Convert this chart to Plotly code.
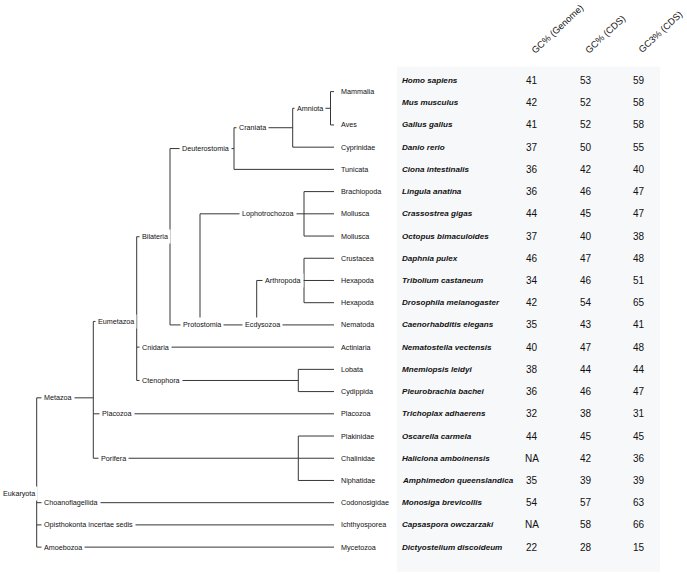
import plotly.graph_objects as go

# ---------------- table data ----------------
species = ["Homo sapiens", "Mus musculus", "Gallus gallus", "Danio rerio",
           "Ciona intestinalis", "Lingula anatina", "Crassostrea gigas",
           "Octopus bimaculoides", "Daphnia pulex", "Tribolium castaneum",
           "Drosophila melanogaster", "Caenorhabditis elegans",
           "Nematostella vectensis", "Mnemiopsis leidyi", "Pleurobrachia bachei",
           "Trichoplax adhaerens", "Oscarella carmela", "Haliclona amboinensis",
           "Amphimedon queenslandica", "Monosiga brevicollis",
           "Capsaspora owczarzaki", "Dictyostelium discoideum"]
gc_genome = [41, 42, 41, 37, 36, 36, 44, 37, 46, 34, 42, 35, 40, 38, 36, 32, 44,
             None, 35, 54, None, 22]
gc_cds = [53, 52, 52, 50, 42, 46, 45, 40, 47, 46, 54, 43, 47, 44, 46, 38, 45,
          42, 39, 57, 58, 28]
gc3_cds = [59, 58, 58, 55, 40, 47, 47, 38, 48, 51, 65, 41, 48, 44, 47, 31, 45,
           36, 39, 63, 66, 15]
column_titles = ["GC% (Genome)", "GC% (CDS)", "GC3% (CDS)"]

# ---------------- tree data ----------------
leaf_id = ["mammalia", "aves", "cyprinidae", "tunicata", "brachiopoda",
           "mollusca1", "mollusca2", "crustacea", "hexapoda1", "hexapoda2",
           "nematoda", "actiniaria", "lobata", "cydippida", "placozoa_l",
           "plakinidae", "chalinidae", "niphatidae", "codonosigidae",
           "ichthyosporea", "mycetozoa"]
leaf_label = ["Mammalia", "Aves", "Cyprinidae", "Tunicata", "Brachiopoda",
              "Mollusca", "Mollusca", "Crustacea", "Hexapoda", "Hexapoda",
              "Nematoda", "Actiniaria", "Lobata", "Cydippida", "Placozoa",
              "Plakinidae", "Chalinidae", "Niphatidae", "Codonosigidae",
              "Ichthyosporea", "Mycetozoa"]
leaf_parent = ["amniota", "amniota", "craniata", "deuterostomia",
               "lophotrochozoa", "lophotrochozoa", "lophotrochozoa",
               "arthropoda", "arthropoda", "arthropoda", "ecdysozoa",
               "cnidaria", "ctenophora", "ctenophora", "placozoa",
               "porifera", "porifera", "porifera", "choanoflagellida",
               "opisthokonta", "amoebozoa"]
leaf_rows = [[0, 1], [2], [3], [4], [5], [6], [7], [8], [9], [10], [11], [12],
             [13], [14], [15], [16], [17], [18], [19], [20], [21]]

node_id = ["eukaryota", "metazoa", "choanoflagellida", "opisthokonta",
           "amoebozoa", "eumetazoa", "placozoa", "porifera", "bilateria",
           "cnidaria", "ctenophora", "deuterostomia", "protostomia",
           "craniata", "lophotrochozoa", "ecdysozoa", "amniota", "arthropoda"]
node_label = ["Eukaryota", "Metazoa", "Choanoflagellida",
              "Opisthokonta incertae sedis", "Amoebozoa", "Eumetazoa",
              "Placozoa", "Porifera", "Bilateria", "Cnidaria", "Ctenophora",
              "Deuterostomia", "Protostomia", "Craniata", "Lophotrochozoa",
              "Ecdysozoa", "Amniota", "Arthropoda"]
node_parent = [None, "eukaryota", "eukaryota", "eukaryota", "eukaryota",
               "metazoa", "metazoa", "metazoa", "eumetazoa", "eumetazoa",
               "eumetazoa", "bilateria", "bilateria", "deuterostomia",
               "protostomia", "protostomia", "craniata", "ecdysozoa"]
node_depth = [0.5, 42.7, 42.7, 42.7, 42.7, 97, 100.7, 100, 141, 141, 141,
              181, 181.7, 238.3, 240.7, 244.3, 296, 264.3]
node_split = [36.7, 93.3, None, None, None, 136.7, None, 298.3, 170, None,
              298.3, 234, 200, 292.7, 304, 256.7, 330.5, 304]
node_on_last = [False] * 12 + [True, False, False, True, False, False]
leaf_depth = 340

# ---------------- layout constants ----------------
W, H = 687, 574
ROW0, ROWH = 80.5, 22.22
LINE = "#363636"
PAD = 2
FAMILY = "Liberation Sans, Arial, sans-serif"
TREE_FONT = dict(family=FAMILY, size=7.2, color="#111111")


def row_to_y(px):
    return (px - ROW0) / ROWH


# ---------------- compute tree geometry ----------------
pos_y, pos_x, children = {}, {}, {}
for lid, lp, rows in zip(leaf_id, leaf_parent, leaf_rows):
    pos_y[lid] = sum(rows) / len(rows)
    pos_x[lid] = leaf_depth
    children.setdefault(lp, []).append(lid)
for nid, npar in zip(node_id, node_parent):
    if npar is not None:
        children.setdefault(npar, []).append(nid)

info = {nid: (d, s, l) for nid, d, s, l in
        zip(node_id, node_depth, node_split, node_on_last)}
is_leaf = set(leaf_id)


def solve(nid):
    if nid in pos_y:
        return pos_y[nid]
    ys_ = [solve(c) for c in children[nid]]
    d, s, last = info[nid]
    pos_x[nid] = d
    pos_y[nid] = max(ys_) if last else sum(ys_) / len(ys_)
    return pos_y[nid]


solve("eukaryota")

xs, ys = [], []


def seg(x0, y0, x1, y1):
    xs.extend([x0, x1, None])
    ys.extend([y0, y1, None])


def child_end(c):
    return pos_x[c] - 6 if c in is_leaf else pos_x[c]


label_w = {nid: 0.5 * len(lab) * TREE_FONT["size"]
           for nid, lab in zip(node_id, node_label)}

for nid in node_id:
    d, s, last = info[nid]
    kids = children[nid]
    y = pos_y[nid]
    cx = pos_x[nid] + label_w[nid] / 2
    if s is None:
        c = kids[0]
        seg(cx, y, child_end(c), pos_y[c])
        continue
    kys = [pos_y[c] for c in kids] + [y]
    seg(s, min(kys), s, max(kys))
    if s > cx:
        seg(cx, y, s, y)
    for c in kids:
        seg(s, pos_y[c], child_end(c), pos_y[c])

fig = go.Figure()
fig.add_trace(go.Scatter(x=xs, y=ys, mode="lines",
                         line=dict(color=LINE, width=1),
                         hoverinfo="skip", showlegend=False))

annotations = []
for nid, lab in zip(node_id, node_label):
    annotations.append(dict(
        x=max(pos_x[nid] - PAD, 0), y=pos_y[nid], text=lab, showarrow=False,
        xanchor="left", yanchor="middle", font=TREE_FONT,
        bgcolor="white", borderpad=PAD))
for lid, lab in zip(leaf_id, leaf_label):
    annotations.append(dict(
        x=pos_x[lid], y=pos_y[lid], text=lab, showarrow=False,
        xanchor="left", yanchor="middle", font=TREE_FONT, borderpad=0))

# ---------------- table ----------------
TABLE_X0, TABLE_X1 = 397, 660
COLS = [532, 586, 639]
NUM_FONT = dict(family=FAMILY, size=10, color="#111111")
SP_FONT = dict(family=FAMILY, size=8.1, color="#111111")
HEAD_FONT = dict(family=FAMILY, size=9.3, color="#111111")

for i, sp in enumerate(species):
    annotations.append(dict(x=TABLE_X0 + 3, y=i, text=f"<b><i>{sp}</i></b>",
                            showarrow=False, xanchor="left",
                            yanchor="middle", font=SP_FONT))
    for cx, col in zip(COLS, [gc_genome, gc_cds, gc3_cds]):
        v = col[i]
        annotations.append(dict(x=cx, y=i, text="NA" if v is None else str(v),
                                showarrow=False, xanchor="center",
                                yanchor="middle", font=NUM_FONT))
for cx, t in zip(COLS, column_titles):
    annotations.append(dict(x=cx - 5, y=row_to_y(58), text=t,
                            showarrow=False, xanchor="left",
                            yanchor="bottom", textangle=-43, font=HEAD_FONT))

fig.update_layout(
    width=W, height=H, margin=dict(l=0, r=0, t=0, b=0),
    paper_bgcolor="white", plot_bgcolor="white",
    xaxis=dict(range=[0, W], visible=False, fixedrange=True),
    yaxis=dict(range=[row_to_y(H), row_to_y(0)], visible=False,
               fixedrange=True),
    shapes=[dict(type="rect", xref="x", yref="y", x0=TABLE_X0, x1=TABLE_X1,
                 y0=row_to_y(66.7), y1=row_to_y(571.7),
                 fillcolor="#f7f8fa", line=dict(width=0), layer="below")],
    annotations=annotations,
)

fig.write_html("out.html", config={"displayModeBar": False},
               post_script="document.body.style.margin='0px';"
                           "document.body.style.overflow='hidden';")
